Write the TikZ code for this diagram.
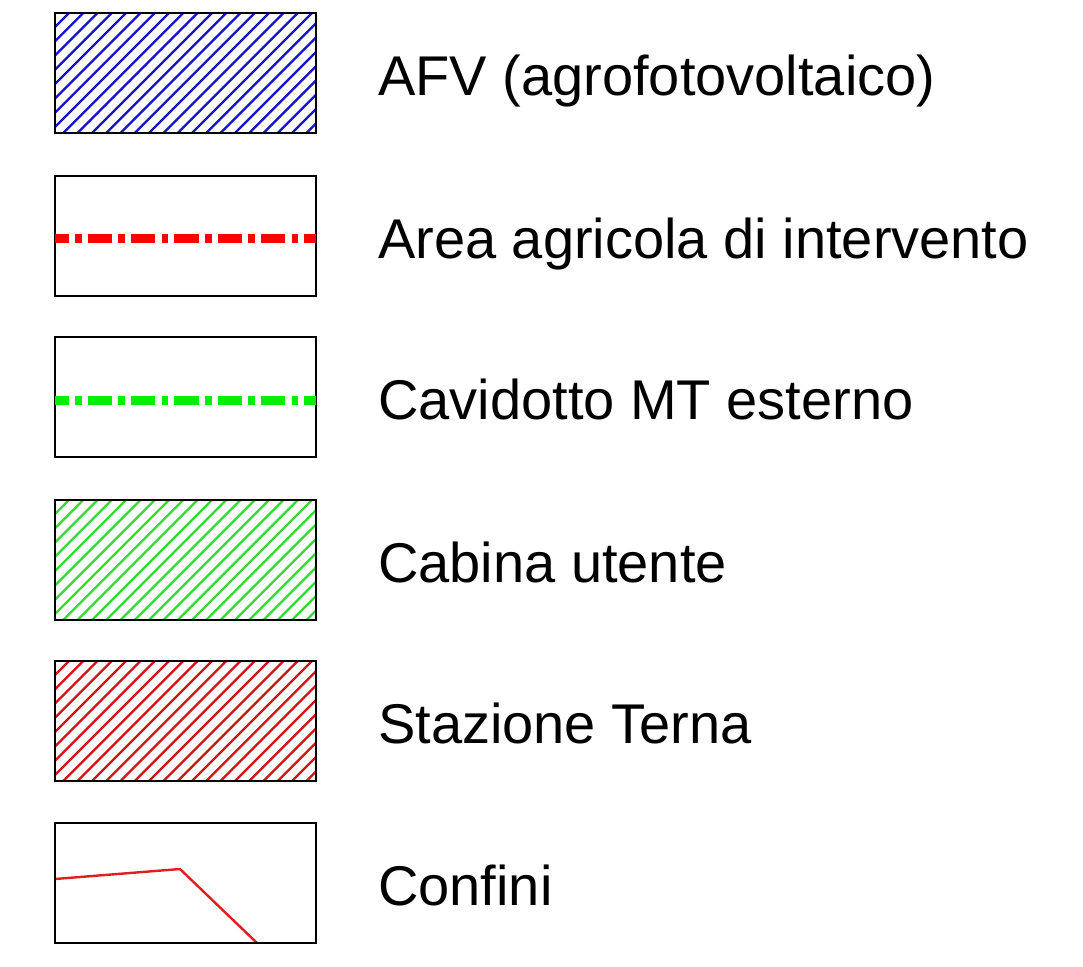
\documentclass[tikz,border=0pt]{standalone}
\usepackage{fontspec}
\setmainfont{Liberation Sans}
\definecolor{hblue}{RGB}{20,20,200}
\definecolor{hgreen}{RGB}{50,220,50}
\definecolor{hred}{RGB}{210,20,20}
\definecolor{dred}{RGB}{255,0,0}
\definecolor{dgreen}{RGB}{0,240,0}
\definecolor{cred}{RGB}{225,30,30}
\tikzset{
  legbox/.style={draw=black, line width=2.1pt, minimum width=261pt, minimum height=120pt, inner sep=0pt, outer sep=0pt},
  legtext/.style={anchor=base west, inner sep=0pt, font=\fontsize{56}{60}\selectfont},
  hatchline/.style={line width=2.3pt},
  dashdot/.style={line width=9pt, line cap=butt, dash pattern=on 24.3pt off 6.5pt on 6.5pt off 6pt, dash phase=10.7pt}
}
\newcommand\myhatch[3]{% #1 node name, #2 top y, #3 colour
  \begin{scope}
    \clip (#1.south west) rectangle (#1.north east);
    \foreach \k in {-9,...,20} {
      \draw[hatchline, #3] ({169+\k*14.3-130}, {#2+130}) -- ({169+\k*14.3+10}, {#2-10});
    }
  \end{scope}
  \node[legbox] at (#1) {};
}
\begin{document}
\begin{tikzpicture}[x={(1pt,0)}, y={(0,-1pt)}]
\useasboundingbox (0,0) rectangle (1083,966);
% boxes
\node[legbox] (b1) at (185.5,73) {};
\node[legbox] (b2) at (185.5,236) {};
\node[legbox] (b3) at (185.5,397) {};
\node[legbox] (b4) at (185.5,560) {};
\node[legbox] (b5) at (185.5,721) {};
\node[legbox] (b6) at (185.5,883) {};
% hatching
\myhatch{b1}{13}{hblue}
\myhatch{b4}{500}{hgreen}
\myhatch{b5}{661}{hred}
% dash-dot lines
\draw[dashdot, dred] ([yshift=-2pt]b2.west) -- ([yshift=-2pt]b2.east);
\draw[dashdot, dgreen] ([yshift=-3pt]b3.west) -- ([yshift=-3pt]b3.east);
% confini
\coordinate (c1) at (55,879);
\coordinate (c2) at (180,869);
\coordinate (c3) at (257,943);
\draw[cred, line width=2.4pt, line join=miter] (c1) -- (c2) -- (c3);
\node[legbox] at (b6) {};
% labels
\node[legtext] (t1) at (378,95) {AFV (agrofotovoltaico)};
\node[legtext] (t2) at (378,258) {Area agricola di intervento};
\node[legtext] (t3) at (378,419) {Cavidotto MT esterno};
\node[legtext] (t4) at (378,582) {Cabina utente};
\node[legtext] (t5) at (378,743) {Stazione Terna};
\node[legtext] (t6) at (378,905) {Confini};
\end{tikzpicture}
\end{document}
